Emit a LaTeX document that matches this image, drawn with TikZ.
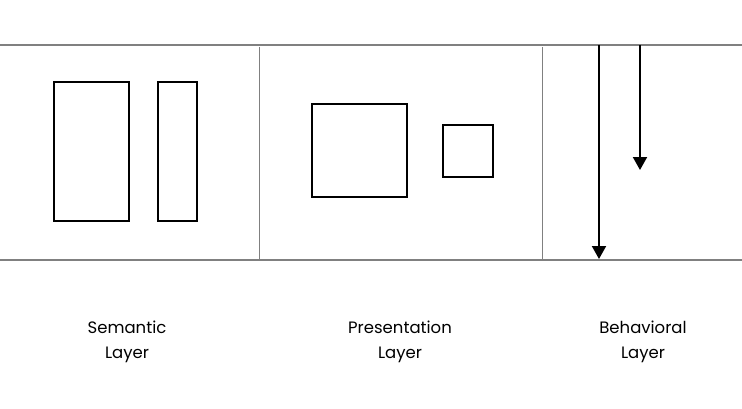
\documentclass[tikz,border=0pt]{standalone}
\usepackage{fontspec}
\setmainfont{Poppins}
\usetikzlibrary{arrows.meta}
\tikzset{
  rule/.style={draw=black!50, line width=2pt},
  divider/.style={draw=black!50, line width=1pt},
  box/.style={draw=black, line width=2.3pt, inner sep=0pt, minimum width=#1},
  flow/.style={draw=black, line width=2pt, -{Triangle[width=14pt,length=13pt]}},
  lbl/.style={align=center, font=\fontsize{16.5}{25}\selectfont}
}
\begin{document}
\begin{tikzpicture}[x=1pt,y=1pt]
\useasboundingbox (0,0) rectangle (742,408);
% horizontal rules
\coordinate (tl) at (0,363);
\coordinate (tr) at (742,363);
\coordinate (bl) at (0,148);
\coordinate (br) at (742,148);
\draw[rule] (tl) -- (tr);
\draw[rule] (bl) -- (br);
% dividers
\coordinate (d1t) at (259,361);
\coordinate (d1b) at (259,148);
\coordinate (d2t) at (542,361);
\coordinate (d2b) at (542,148);
\draw[divider] (d1t) -- (d1b);
\draw[divider] (d2t) -- (d2b);
% semantic boxes
\node[box=75pt, minimum height=139pt] (s1) at (91.5,256.5) {};
\node[box=39pt, minimum height=139pt] (s2) at (177.5,256.5) {};
% presentation boxes
\node[box=95pt, minimum height=93pt] (p1) at (359.5,257.5) {};
\node[box=50pt, minimum height=52pt] (p2) at (468,257) {};
% behavioral arrows
\coordinate (a1s) at (599,363);
\coordinate (a1e) at (599,149);
\coordinate (a2s) at (640,363);
\coordinate (a2e) at (640,238);
\draw[flow] (a1s) -- (a1e);
\draw[flow] (a2s) -- (a2e);
% labels
\node[lbl] (l1) at (127,66) {Semantic\\Layer};
\node[lbl] (l2) at (400,66) {Presentation\\Layer};
\node[lbl] (l3) at (643,66) {Behavioral\\Layer};
\end{tikzpicture}
\end{document}
